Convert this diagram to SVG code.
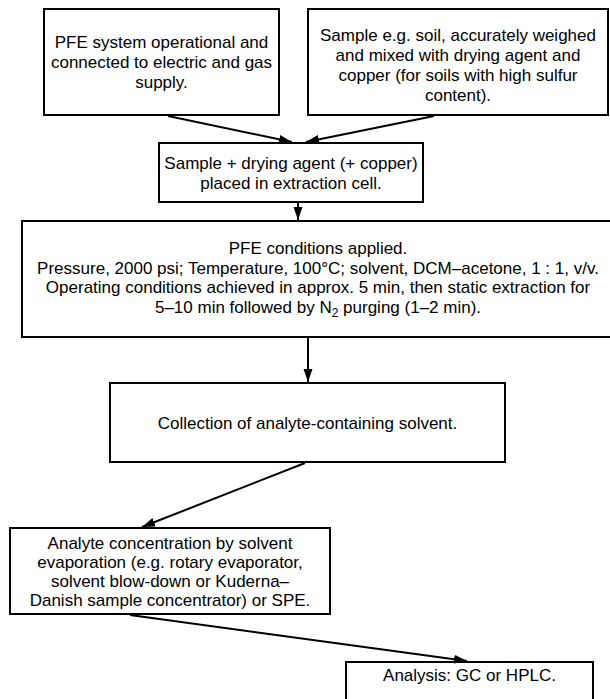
<svg xmlns="http://www.w3.org/2000/svg" width="610" height="699" viewBox="0 0 610 699">
<style>
.box{fill:#fff;stroke:#000;stroke-width:2}
.t{font-family:"Liberation Sans",Arial,sans-serif;font-size:17px;fill:#000;text-anchor:middle}
.c{stroke:#000;stroke-width:2;fill:none;marker-end:url(#ah)}
</style>
<defs>
<marker id="ah" markerUnits="userSpaceOnUse" markerWidth="14" markerHeight="10" refX="13" refY="5" orient="auto">
<path d="M0,0.5 L13,5 L0,9.5 z" fill="#000"/>
</marker>
</defs>
<rect width="610" height="699" fill="#fff"/>
<g id="n1">
<rect class="box" x="44" y="9" width="235" height="106"/>
<text class="t" x="161.5" y="48">PFE system operational and</text>
<text class="t" x="161.5" y="68">connected to electric and gas</text>
<text class="t" x="161.5" y="88">supply.</text>
</g>
<g id="n2">
<rect class="box" x="308" y="9" width="300" height="106"/>
<text class="t" x="458" y="41">Sample e.g. soil, accurately weighed</text>
<text class="t" x="458" y="61">and mixed with drying agent and</text>
<text class="t" x="458" y="81">copper (for soils with high sulfur</text>
<text class="t" x="458" y="101">content).</text>
</g>
<g id="n3">
<rect class="box" x="159" y="143" width="264" height="59"/>
<text class="t" x="291" y="169">Sample + drying agent (+ copper)</text>
<text class="t" x="291" y="189">placed in extraction cell.</text>
</g>
<g id="n4">
<rect class="box" x="22" y="221" width="592" height="116"/>
<text class="t" x="318" y="254">PFE conditions applied.</text>
<text class="t" x="318" y="274">Pressure, 2000 psi; Temperature, 100°C; solvent, DCM–acetone, 1 : 1, v/v.</text>
<text class="t" x="318" y="293">Operating conditions achieved in approx. 5 min, then static extraction for</text>
<text class="t" x="318" y="313">5–10 min followed by N<tspan font-size="12" dy="4">2</tspan><tspan dy="-4"> purging (1–2 min).</tspan></text>
</g>
<g id="n5">
<rect class="box" x="110" y="383" width="395" height="79"/>
<text class="t" x="307.5" y="429">Collection of analyte-containing solvent.</text>
</g>
<g id="n6">
<rect class="box" x="10" y="528" width="320" height="86"/>
<text class="t" x="170" y="549">Analyte concentration by solvent</text>
<text class="t" x="170" y="568">evaporation (e.g. rotary evaporator,</text>
<text class="t" x="170" y="587">solvent blow-down or Kuderna–</text>
<text class="t" x="170" y="606">Danish sample concentrator) or SPE.</text>
</g>
<g id="n7">
<rect class="box" x="346" y="662" width="247" height="50"/>
<text class="t" x="469.5" y="681">Analysis: GC or HPLC.</text>
</g>
<g id="connectors">
<line class="c" x1="168" y1="116" x2="292" y2="142"/>
<line class="c" x1="434" y1="116" x2="306" y2="142"/>
<line class="c" x1="298" y1="203" x2="298" y2="220"/>
<line class="c" x1="308" y1="338" x2="308" y2="382"/>
<line class="c" x1="305" y1="463" x2="142" y2="527"/>
<line class="c" x1="130" y1="615" x2="467" y2="661"/>
</g>
</svg>
